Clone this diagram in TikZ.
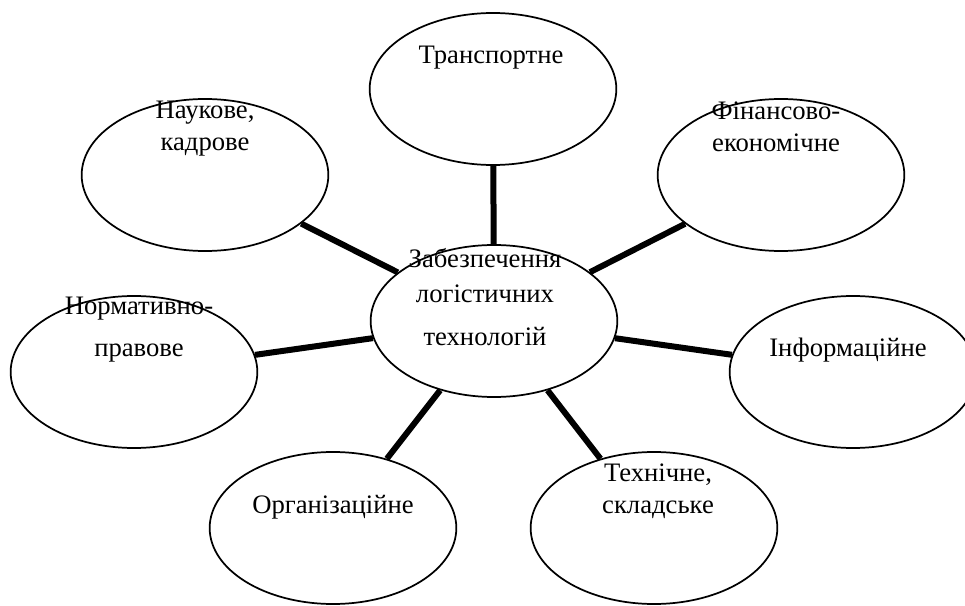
\documentclass[tikz,border=0pt]{standalone}
\usepackage{fontspec}
\setmainfont{Liberation Serif}
\usepackage{tikz}
\usetikzlibrary{shapes.geometric}
\tikzset{
    branch/.style={ellipse, draw, line width=1.3pt, minimum width=185pt, minimum height=114pt, inner sep=0pt},
    link/.style={line width=4.5pt},
    caption/.style={font=\fontsize{20}{24}\selectfont, align=center, anchor=base, inner sep=0pt}
}

\begin{document}
\begin{tikzpicture}[x=0.75pt, y=-0.75pt]
    % Fix the size of the page
    \useasboundingbox (0,0) rectangle (965,606);

    % Draw the ellipses
    \node[branch] (hub) at (494,321) {};
    \node[branch] (transport) at (493,89) {};
    \node[branch] (science) at (205,175) {};
    \node[branch] (finance) at (781,175) {};
    \node[branch] (normative) at (134,372) {};
    \node[branch] (info) at (853,372) {};
    \node[branch] (organiz) at (333,528) {};
    \node[branch] (technical) at (654,528) {};

    % Draw the links to the centre
    \foreach \outer in {transport, science, finance, normative, info, organiz, technical}
        \draw[link] (hub) -- (\outer);

    % Write the texts
    \node[caption] (hubtext) at (485,345) {Забезпечення\\[2pt]логістичних\\[8pt]технологій};
    \node[caption] (transporttext) at (491,64) {Транспортне};
    \node[caption] (sciencetext) at (205,151) {Наукове,\\кадрове};
    \node[caption] (financetext) at (776,152) {Фінансово-\\економічне};
    \node[caption] (normativetext) at (139,357) {Нормативно-\\[8pt]правове};
    \node[caption] (infotext) at (848,357) {Інформаційне};
    \node[caption] (organiztext) at (333,513) {Організаційне};
    \node[caption] (technicaltext) at (658,513) {Технічне,\\складське};
\end{tikzpicture}
\end{document}
